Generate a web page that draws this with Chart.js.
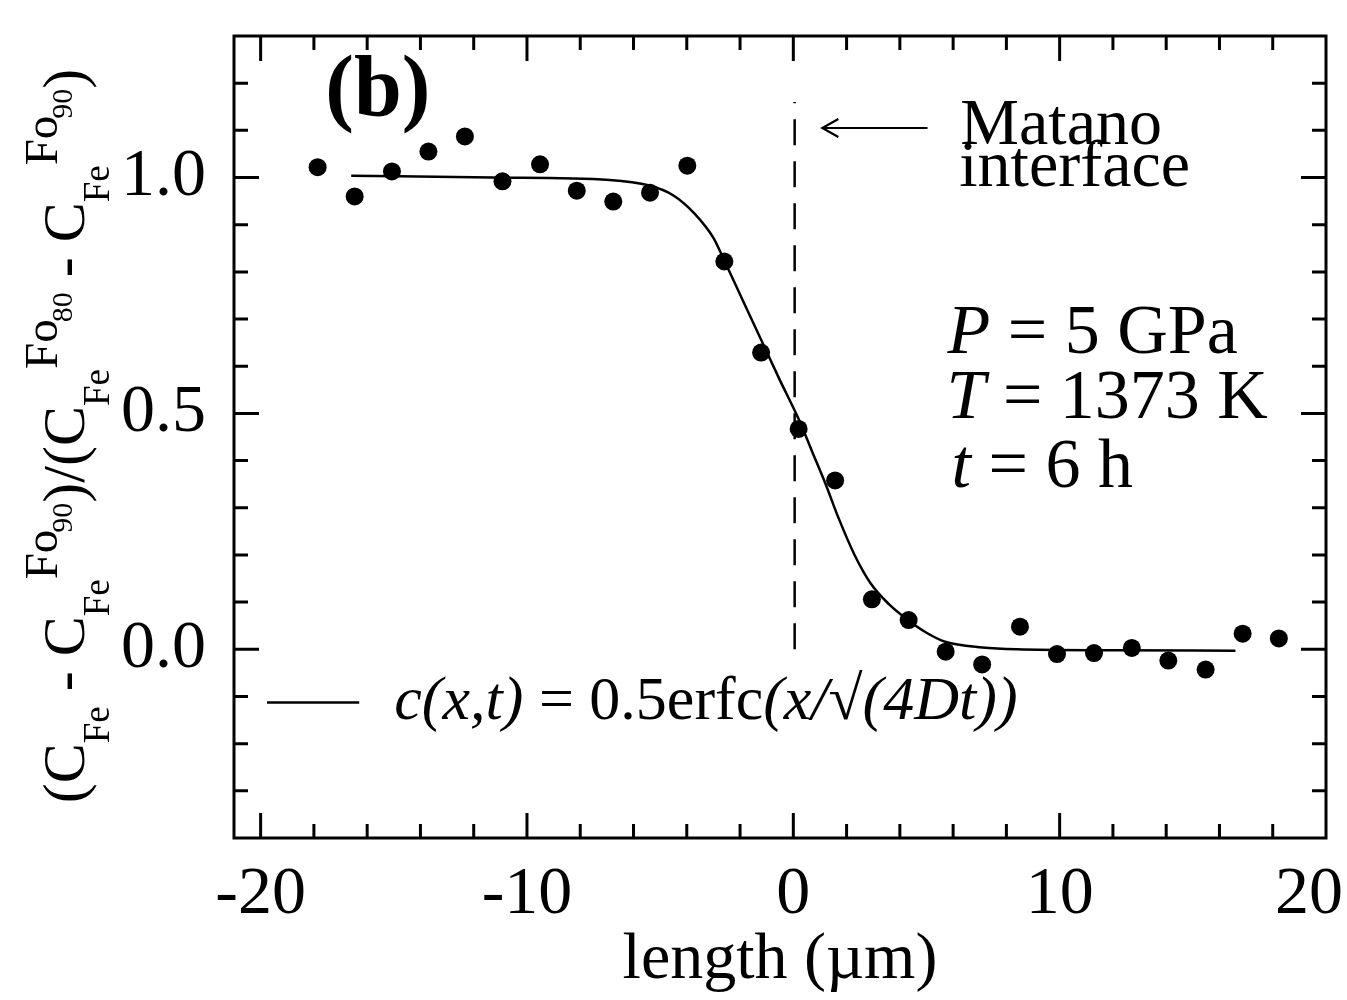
<!DOCTYPE html>
<html>
<head>
<meta charset="utf-8">
<title>Fe diffusion profile (b)</title>
<script src="https://cdn.jsdelivr.net/npm/chart.js@4.4.1/dist/chart.umd.min.js"></script>
<style>
  html, body { margin: 0; padding: 0; background: #fff; overflow: hidden; }
  #wrap { width: 1347px; height: 1000px; }
</style>
</head>
<body>
<div id="wrap"><canvas id="profileChart" width="1347" height="1000"></canvas></div>
<script>
// measured points: length (um) and normalised Fe content
const pointX = [-17.86, -16.47, -15.07, -13.70, -12.33, -10.92, -9.51, -8.13, -6.76, -5.38, -3.98, -2.59, -1.21, 0.20,
                1.57, 2.95, 4.33, 5.72, 7.09, 8.51, 9.90, 11.29, 12.71, 14.08, 15.48, 16.87, 18.23];
const pointY = [1.022, 0.960, 1.013, 1.055, 1.087, 0.992, 1.028, 0.972, 0.949, 0.968, 1.025, 0.822, 0.629, 0.467,
                0.358, 0.106, 0.062, -0.005, -0.032, 0.048, -0.010, -0.008, 0.003, -0.024, -0.043, 0.033, 0.023];

// erfc fit
const fitX = [-16.6, -11.3, -6.9, -5.4, -4.5, -3.7, -3.0, -2.6, -1.9, -1.2, -0.5, 0.2, 0.7, 1.2, 1.7, 2.3, 2.9,
              3.6, 4.3, 5.0, 5.7, 7.1, 8.4, 12.0, 16.6];
const fitY = [1.004, 1.000, 0.995, 0.983, 0.962, 0.923, 0.872, 0.825, 0.740, 0.655, 0.570, 0.488, 0.420, 0.352,
              0.278, 0.200, 0.140, 0.095, 0.062, 0.035, 0.016, 0.004, 0.000, -0.002, -0.003];

// Matano interface (dashed)
const matanoX = [0.05, 0.05];
const matanoY = [0.0, 1.16];

// axis ticks
const xTickValues = [-20, -18, -16, -14, -12, -10, -8, -6, -4, -2, 0, 2, 4, 6, 8, 10, 12, 14, 16, 18];
const xLabelValues = [-20, -10, 0, 10, 20];
const yTickValues = [-0.3, -0.2, -0.1, 0.0, 0.1, 0.2, 0.3, 0.4, 0.5, 0.6, 0.7, 0.8, 0.9, 1.0, 1.1, 1.2];
const yLabelValues = [0.0, 0.5, 1.0];

const ink = '#000';
const serif = '"Liberation Serif", "Times New Roman", serif';

function isIn(list, v) {
    return list.some(l => Math.abs(l - v) < 1e-6);
}

function fontOf(size, style) {
    return (style || '') + ' ' + Math.round(size) + 'px ' + serif;
}

// rich text: segments with relative size, baseline shift and style
function richWidth(ctx, segs, base) {
    let w = 0;
    segs.forEach(s => {
        ctx.font = fontOf(base * (s.s || 1), s.st);
        w += ctx.measureText(s.t).width - (s.back || 0) * base;
    });
    return w;
}

function drawRich(ctx, segs, x, y, base) {
    let cx = x;
    segs.forEach(s => {
        ctx.font = fontOf(base * (s.s || 1), s.st);
        ctx.fillText(s.t, cx, y + (s.dy || 0) * base);
        cx += ctx.measureText(s.t).width - (s.back || 0) * base;
    });
}

const sub = t => ({ t: t, s: 0.62, dy: 0.42 });
const sup = t => ({ t: t, s: 0.78, dy: -0.45, back: 0.05 });
const supSub = t => ({ t: t, s: 0.5, dy: -0.2 });

const yTitle = [
    { t: '(C' }, sub('Fe'), { t: ' - C' }, sub('Fe'), sup('Fo'), supSub('90'),
    { t: ')/(C' }, sub('Fe'), sup('Fo'), supSub('80'),
    { t: ' - C' }, sub('Fe'), sup('Fo'), supSub('90'), { t: ')' }
];

const fitLabel = [
    { t: 'c(x,t)', st: 'italic' }, { t: ' = 0.5erfc' }, { t: '(x/\u221A(4Dt))', st: 'italic' }
];

const conditions = [
    { y: 0.628, x: 5.79, segs: [{ t: 'P', st: 'italic' }, { t: ' = 5 GPa' }] },
    { y: 0.491, x: 5.75, segs: [{ t: 'T', st: 'italic' }, { t: ' = 1373 K' }] },
    { y: 0.344, x: 5.94, segs: [{ t: 't', st: 'italic' }, { t: ' = 6 h' }] }
];

const decorPlugin = {
    id: 'decor',
    afterDraw(chart) {
        const { ctx, chartArea: a, scales: { x, y } } = chart;
        ctx.save();
        ctx.strokeStyle = ink;
        ctx.fillStyle = ink;
        ctx.lineCap = 'butt';

        // frame
        ctx.lineWidth = 3;
        ctx.strokeRect(a.left, a.top, a.right - a.left, a.bottom - a.top);

        // inward ticks on all four sides
        ctx.beginPath();
        xTickValues.forEach(v => {
            const px = x.getPixelForValue(v);
            const len = isIn(xLabelValues, v) ? 25 : 14;
            ctx.moveTo(px, a.bottom); ctx.lineTo(px, a.bottom - len);
            ctx.moveTo(px, a.top); ctx.lineTo(px, a.top + len);
        });
        yTickValues.forEach(v => {
            const py = y.getPixelForValue(v);
            const len = isIn(yLabelValues, v) ? 25 : 14;
            ctx.moveTo(a.left, py); ctx.lineTo(a.left + len, py);
            ctx.moveTo(a.right, py); ctx.lineTo(a.right - len, py);
        });
        ctx.stroke();

        // x tick labels (kept inside the canvas at the right edge)
        ctx.font = fontOf(68);
        ctx.textAlign = 'center';
        ctx.textBaseline = 'alphabetic';
        xLabelValues.forEach(v => {
            const w = ctx.measureText(String(v)).width;
            let px = x.getPixelForValue(v);
            px = Math.min(px, chart.width - w / 2 - 4);
            ctx.fillText(String(v), px, 913);
        });

        // y axis title, rotated
        ctx.textAlign = 'left';
        const base = 60;
        const tw = richWidth(ctx, yTitle, base);
        ctx.save();
        ctx.translate(84, 436);
        ctx.rotate(-Math.PI / 2);
        drawRich(ctx, yTitle, -tw / 2, 0, base);
        ctx.restore();

        // panel label
        ctx.font = fontOf(86, 'bold');
        ctx.textAlign = 'center';
        ctx.textBaseline = 'middle';
        ctx.fillText('(b)', x.getPixelForValue(-15.6), y.getPixelForValue(1.18));

        // Matano annotation with arrow
        ctx.textAlign = 'left';
        ctx.textBaseline = 'alphabetic';
        ctx.font = fontOf(66);
        ctx.fillText('Matano', x.getPixelForValue(6.27), y.getPixelForValue(1.072));
        ctx.fillText('interface', x.getPixelForValue(6.23), y.getPixelForValue(0.982));
        const ay = y.getPixelForValue(1.105);
        const ax0 = x.getPixelForValue(5.04), ax1 = x.getPixelForValue(1.09);
        ctx.lineWidth = 2.2;
        ctx.beginPath();
        ctx.moveTo(ax0, ay); ctx.lineTo(ax1, ay);
        ctx.moveTo(ax1 + 16, ay - 9); ctx.lineTo(ax1, ay); ctx.lineTo(ax1 + 16, ay + 9);
        ctx.stroke();

        // run conditions
        conditions.forEach(c => {
            drawRich(ctx, c.segs, x.getPixelForValue(c.x), y.getPixelForValue(c.y), 70);
        });

        // fit legend
        const ly = y.getPixelForValue(-0.113);
        ctx.lineWidth = 2.5;
        ctx.beginPath();
        ctx.moveTo(x.getPixelForValue(-19.76), ly);
        ctx.lineTo(x.getPixelForValue(-16.3), ly);
        ctx.stroke();
        ctx.textBaseline = 'middle';
        drawRich(ctx, fitLabel, x.getPixelForValue(-14.98), ly, 62);

        ctx.restore();
    }
};

document.addEventListener('DOMContentLoaded', function() {
    const profileCtx = document.getElementById('profileChart').getContext('2d');
    new Chart(profileCtx, {
        type: 'scatter',
        data: {
            datasets: [{
                label: 'measured',
                data: pointX.map((v, i) => ({ x: v, y: pointY[i] })),
                backgroundColor: ink,
                borderColor: ink,
                pointRadius: 9,
                pointBorderWidth: 0,
                showLine: false,
                order: 1
            }, {
                label: 'c(x,t) = 0.5erfc(x/\u221A(4Dt))',
                type: 'line',
                data: fitX.map((v, i) => ({ x: v, y: fitY[i] })),
                borderColor: ink,
                borderWidth: 2.5,
                pointRadius: 0,
                cubicInterpolationMode: 'monotone',
                fill: false,
                order: 2
            }, {
                label: 'Matano interface',
                type: 'line',
                data: matanoX.map((v, i) => ({ x: v, y: matanoY[i] })),
                borderColor: ink,
                borderWidth: 2.5,
                borderDash: [26, 16],
                pointRadius: 0,
                fill: false,
                order: 3
            }]
        },
        options: {
            responsive: false,
            animation: false,
            devicePixelRatio: 1,
            layout: { padding: { top: 36, right: 21, left: 0, bottom: 0 } },
            plugins: {
                legend: { display: false },
                tooltip: { enabled: false }
            },
            scales: {
                x: {
                    type: 'linear',
                    min: -21,
                    max: 20,
                    grid: { display: false, drawTicks: false },
                    border: { display: false },
                    ticks: { display: false },
                    afterBuildTicks: s => { s.ticks = xTickValues.map(v => ({ value: v })); },
                    afterFit: s => { s.height = 162; s.paddingLeft = 0; s.paddingRight = 0; },
                    title: {
                        display: true,
                        text: 'length (\u00B5m)',
                        color: ink,
                        font: { family: serif, size: 66 },
                        padding: { top: 0, bottom: 0 }
                    }
                },
                y: {
                    type: 'linear',
                    min: -0.4,
                    max: 1.3,
                    grid: { display: false, drawTicks: false },
                    border: { display: false },
                    afterBuildTicks: s => { s.ticks = yTickValues.map(v => ({ value: v })); },
                    afterFit: s => { s.width = 234; s.paddingTop = 0; s.paddingBottom = 0; },
                    ticks: {
                        color: ink,
                        padding: 28,
                        autoSkip: false,
                        font: { family: serif, size: 68 },
                        callback: v => isIn(yLabelValues, v) ? v.toFixed(1) : ''
                    }
                }
            }
        },
        plugins: [decorPlugin]
    });
});
</script>
</body>
</html>
